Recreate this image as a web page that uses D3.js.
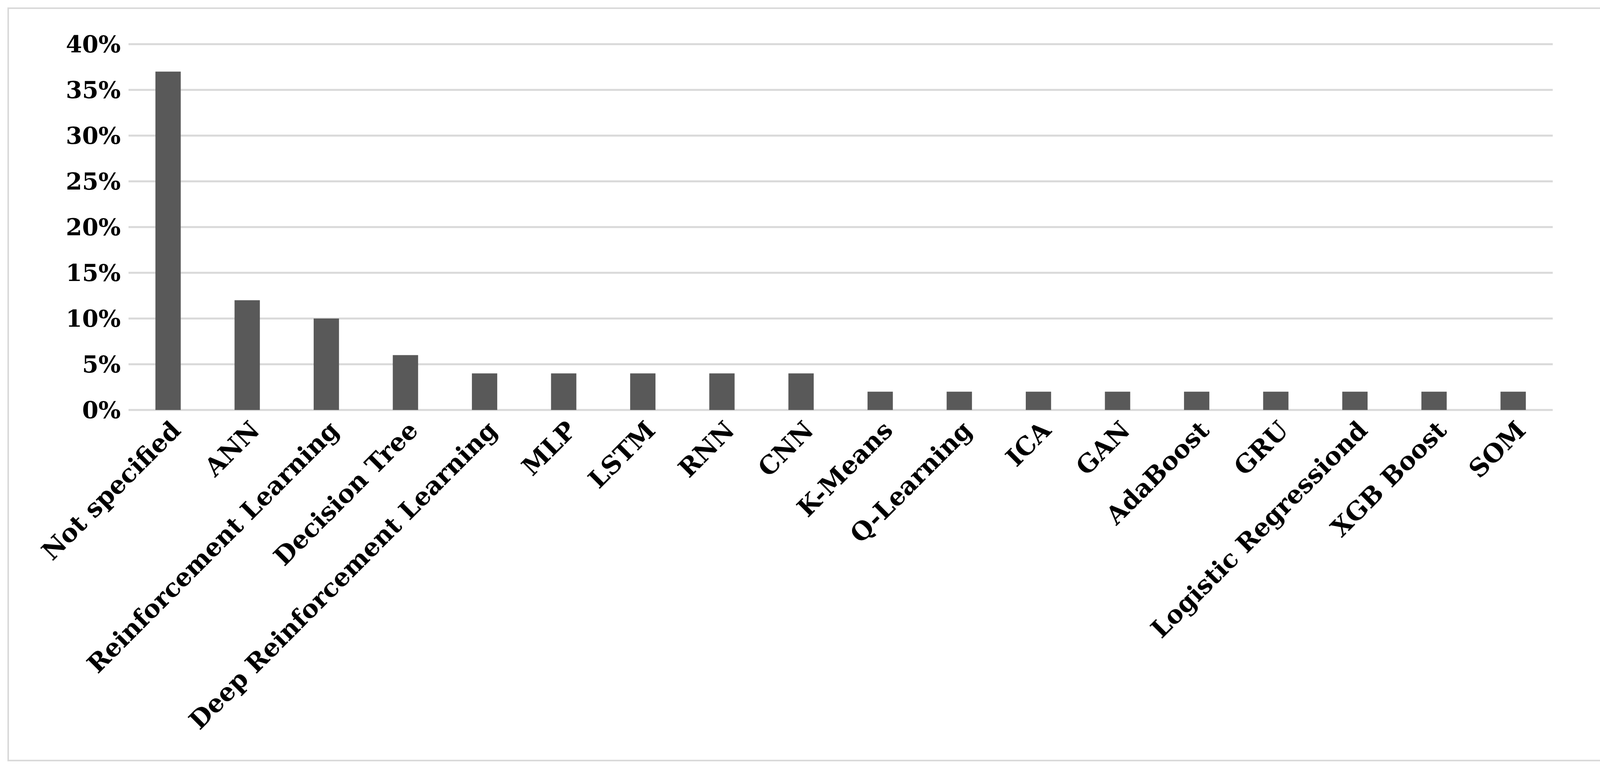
<!DOCTYPE html>
<html>
<head>
<meta charset="utf-8">
<script src="https://cdn.jsdelivr.net/npm/d3@7"></script>
<style>
  body { margin: 0; background: #fff; }
  text { font-family: "DejaVu Serif", "Liberation Serif", serif; font-weight: bold; fill: #000; }
</style>
</head>
<body>
<script>
var categories = ["Not specified", "ANN", "Reinforcement Learning", "Decision Tree",
  "Deep Reinforcement Learning", "MLP", "LSTM", "RNN", "CNN", "K-Means", "Q-Learning",
  "ICA", "GAN", "AdaBoost", "GRU", "Logistic Regressiond", "XGB Boost", "SOM"];
var values = [37, 12, 10, 6, 4, 4, 4, 4, 4, 2, 2, 2, 2, 2, 2, 2, 2, 2];
var ticks = [0, 5, 10, 15, 20, 25, 30, 35, 40];

var W = 4132, H = 1983;
var margin = {top: 113, right: 122, bottom: 934, left: 329};
var width = W - margin.left - margin.right - 35,
    height = H - margin.top - margin.bottom;

var svg = d3.select("body").append("svg")
  .attr("width", W).attr("height", H);

svg.append("rect")
  .attr("x", 21).attr("y", 21).attr("width", W - 42).attr("height", H - 58)
  .attr("fill", "none").attr("stroke", "#d9d9d9").attr("stroke-width", 4);

var g = svg.append("g")
  .attr("transform", "translate(" + margin.left + "," + margin.top + ")");

var x = d3.scaleBand().domain(categories).range([0, width]).paddingInner(0.68).paddingOuter(0.34);
var y = d3.scaleLinear().domain([0, 40]).range([height, 0]);

g.selectAll(".grid")
  .data(ticks)
  .enter().append("line")
  .attr("x1", 0).attr("x2", width)
  .attr("y1", function(d) { return y(d); })
  .attr("y2", function(d) { return y(d); })
  .attr("stroke", "#d9d9d9").attr("stroke-width", 5);

g.selectAll(".ylab")
  .data(ticks)
  .enter().append("text")
  .attr("x", -20)
  .attr("y", function(d) { return y(d); })
  .attr("dy", "0.35em")
  .attr("text-anchor", "end")
  .style("font-size", "60px")
  .text(function(d) { return d + "%"; });

g.selectAll(".bar")
  .data(values)
  .enter().append("rect")
  .attr("x", function(d, i) { return x(categories[i]); })
  .attr("y", function(d) { return y(d); })
  .attr("width", x.bandwidth())
  .attr("height", function(d) { return height - y(d); })
  .attr("fill", "#595959");

g.selectAll(".xlab")
  .data(categories)
  .enter().append("text")
  .attr("transform", function(d) {
    return "translate(" + (x(d) + x.bandwidth() / 2 + 20) + "," + (height + 40) + ") rotate(-45)";
  })
  .attr("text-anchor", "end")
  .attr("dy", "0.35em")
  .style("font-size", "64px")
  .text(function(d) { return d; });
</script>
</body>
</html>
